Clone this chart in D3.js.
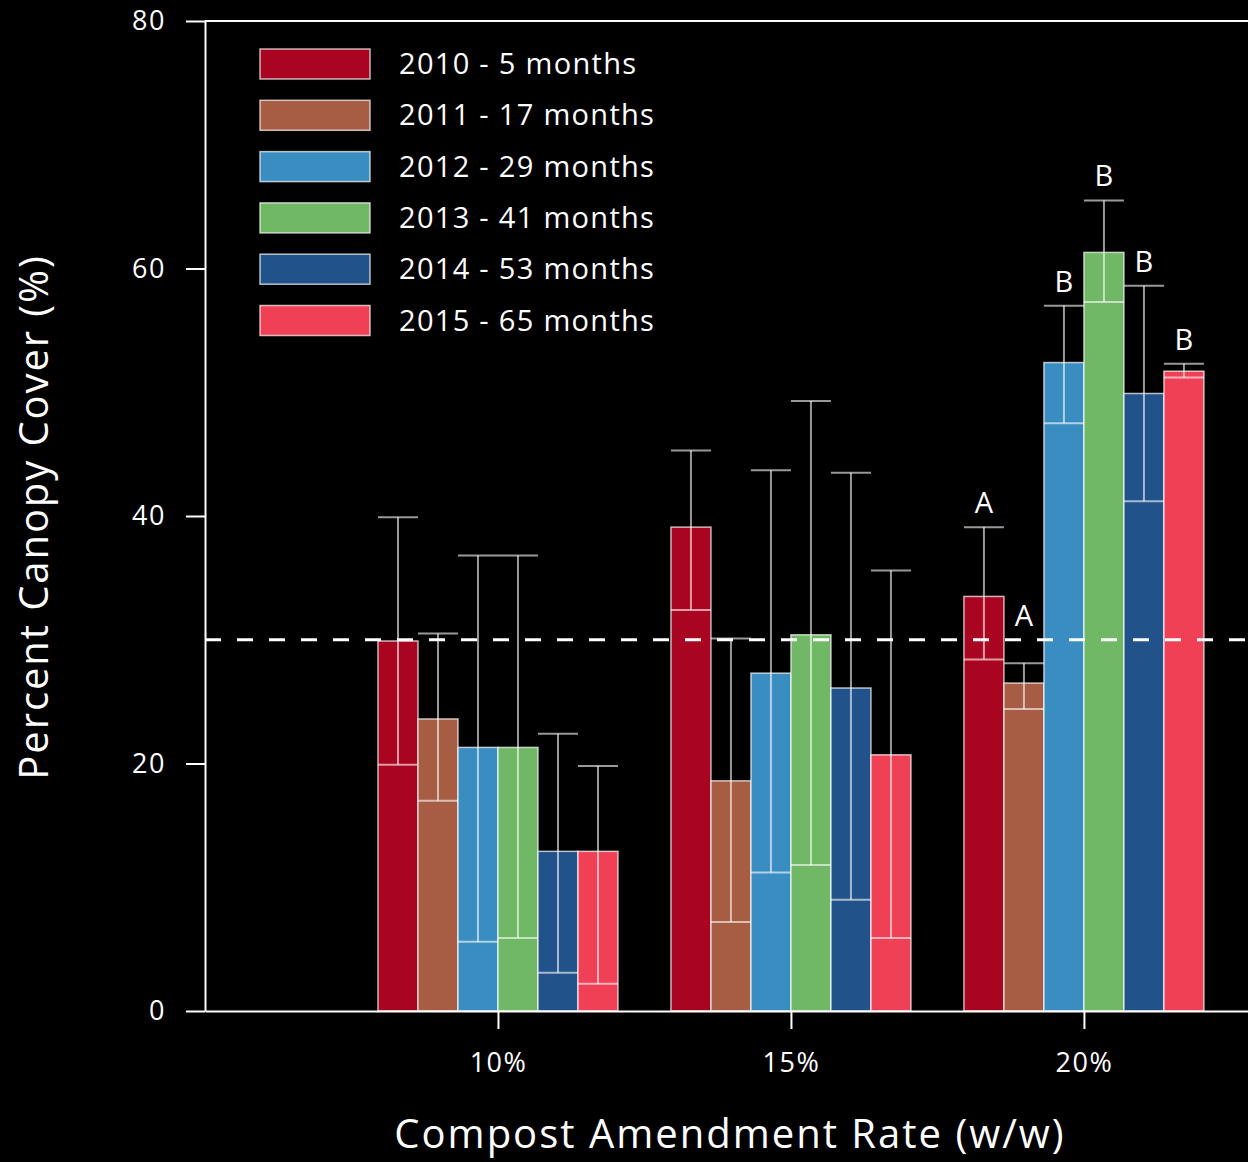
<!DOCTYPE html>
<html>
<head>
<meta charset="utf-8">
<script src="https://cdn.jsdelivr.net/npm/d3@7"></script>
<style>
  body { margin: 0; background: #000; }
  text { font-family: "Open Sans", Lato, sans-serif; fill: #fff; }
</style>
</head>
<body>
<svg id="chart"></svg>
<script>
// Compost rates (x categories) and sampling years (series)
const rates = [10, 15, 20];
const rateLabels = ["10%", "15%", "20%"];
const seriesNames = ["2010 - 5 months", "2011 - 17 months", "2012 - 29 months",
                     "2013 - 41 months", "2014 - 53 months", "2015 - 65 months"];
const seriesColors = ["#aa0520", "#a65d43", "#3a8dc0", "#70b865", "#215289", "#ef4056"];

// Mean canopy cover (%) per series, one value per rate
const meanCover = [
  [29.9, 39.1, 33.5],
  [23.6, 18.6, 26.5],
  [21.3, 27.3, 52.4],
  [21.3, 30.4, 61.3],
  [12.9, 26.1, 49.9],
  [12.9, 20.7, 51.7]
];
// Lower and upper ends of the error bars
const errLow = [
  [19.9, 32.4, 28.4],
  [17.0, 7.2, 24.4],
  [5.6, 11.2, 47.5],
  [5.9, 11.8, 57.3],
  [3.1, 9.0, 41.2],
  [2.2, 5.9, 51.2]
];
const errHigh = [
  [39.9, 45.3, 39.1],
  [30.5, 30.1, 28.1],
  [36.8, 43.7, 57.0],
  [36.8, 49.3, 65.5],
  [22.4, 43.5, 58.6],
  [19.8, 35.6, 52.3]
];
// Significance letters (only shown for 20%)
const letterRate = 20;
const letters = ["A", "A", "B", "B", "B", "B"];

const yTicks = [0, 20, 40, 60, 80];
const refLine = 30;

// Flatten into records
const data = [];
rates.forEach((r, i) => {
  seriesNames.forEach((s, j) => {
    data.push({ rate: r, series: s, idx: j, mean: meanCover[j][i], lo: errLow[j][i], hi: errHigh[j][i],
                letter: r === letterRate ? letters[j] : "" });
  });
});

const W = 1248, H = 1162;
const margin = { top: 21, right: 0, bottom: 151, left: 205 };
const innerH = H - margin.top - margin.bottom;
const innerW = W - margin.left - margin.right;

const svg = d3.select("#chart").attr("width", W).attr("height", H)
  .append("g").attr("transform", `translate(${margin.left},${margin.top})`);

const x = d3.scaleLinear().domain([5, 22.8]).range([0, innerW]);
const y = d3.scaleLinear().domain([0, 80]).range([innerH, 0]);
const xInner = d3.scaleBand().domain(seriesNames).range([-120, 120]).padding(0);
const color = d3.scaleOrdinal().domain(seriesNames).range(seriesColors);

// Bars
svg.selectAll(".bar").data(data).enter().append("rect")
  .attr("x", d => x(d.rate) + xInner(d.series))
  .attr("y", d => y(d.mean))
  .attr("width", xInner.bandwidth())
  .attr("height", d => y(0) - y(d.mean))
  .attr("fill", d => color(d.series))
  .attr("stroke", "rgba(255,255,255,0.7)")
  .attr("stroke-width", 1.5);

// Error bars
const eb = svg.selectAll(".err").data(data).enter().append("g")
  .attr("stroke", "rgba(255,255,255,0.6)").attr("stroke-width", 2);
eb.append("line")
  .attr("x1", d => x(d.rate) + xInner(d.series) + xInner.bandwidth() / 2)
  .attr("x2", d => x(d.rate) + xInner(d.series) + xInner.bandwidth() / 2)
  .attr("y1", d => y(d.lo)).attr("y2", d => y(d.hi));
eb.append("line")
  .attr("x1", d => x(d.rate) + xInner(d.series))
  .attr("x2", d => x(d.rate) + xInner(d.series) + xInner.bandwidth())
  .attr("y1", d => y(d.hi)).attr("y2", d => y(d.hi));
eb.append("line")
  .attr("x1", d => x(d.rate) + xInner(d.series))
  .attr("x2", d => x(d.rate) + xInner(d.series) + xInner.bandwidth())
  .attr("y1", d => y(d.lo)).attr("y2", d => y(d.lo));

// Significance letters, kept above the reference line
svg.selectAll(".letter").data(data.filter(d => d.letter)).enter().append("text")
  .attr("x", d => x(d.rate) + xInner(d.series) + xInner.bandwidth() / 2)
  .attr("y", d => y(Math.max(d.hi, refLine)) - 14)
  .attr("text-anchor", "middle")
  .style("font-size", "29px")
  .text(d => d.letter);

// Reference line
svg.append("line")
  .attr("x1", 0).attr("x2", innerW)
  .attr("y1", y(refLine)).attr("y2", y(refLine))
  .attr("stroke", "#fff").attr("stroke-width", 3)
  .attr("stroke-dasharray", "16,16");

// Axes
const yAxis = svg.append("g")
  .call(d3.axisLeft(y).tickValues(yTicks).tickSize(19).tickSizeOuter(0).tickPadding(20));
const xAxis = svg.append("g").attr("transform", `translate(0,${innerH})`)
  .call(d3.axisBottom(x).tickValues(rates).tickFormat((d, i) => rateLabels[i])
    .tickSize(18).tickSizeOuter(0).tickPadding(24));
[yAxis, xAxis].forEach(a => {
  a.selectAll("path, line").attr("stroke", "#fff").attr("stroke-width", 2);
  a.selectAll("text").style("font-size", "27px").style("letter-spacing", "1.5px").attr("fill", "#fff");
});
// top frame line
svg.append("line")
  .attr("x1", 0).attr("x2", innerW).attr("y1", y(80)).attr("y2", y(80))
  .attr("stroke", "#fff").attr("stroke-width", 2);

// Axis titles
svg.append("text")
  .attr("x", 730 - margin.left)
  .attr("y", innerH + 137)
  .attr("text-anchor", "middle")
  .style("font-size", "40px")
  .style("letter-spacing", "2px")
  .text("Compost Amendment Rate (w/w)");
svg.append("text")
  .attr("transform", "rotate(-90)")
  .attr("x", -(517 - margin.top))
  .attr("y", -margin.left + 48)
  .attr("text-anchor", "middle")
  .style("font-size", "40px")
  .style("letter-spacing", "1.9px")
  .text("Percent Canopy Cover (%)");

// Legend
const legend = svg.selectAll(".legend").data(seriesNames).enter().append("g")
  .attr("transform", (d, i) => `translate(${260 - margin.left},${49 - margin.top + i * 51.3})`);
legend.append("rect")
  .attr("width", 110).attr("height", 30)
  .attr("fill", d => color(d))
  .attr("stroke", "rgba(255,255,255,0.7)").attr("stroke-width", 1.5);
legend.append("text")
  .attr("x", 139).attr("y", 15).attr("dy", "0.35em")
  .style("font-size", "29px")
  .style("letter-spacing", "1.3px")
  .text(d => d);
</script>
</body>
</html>
